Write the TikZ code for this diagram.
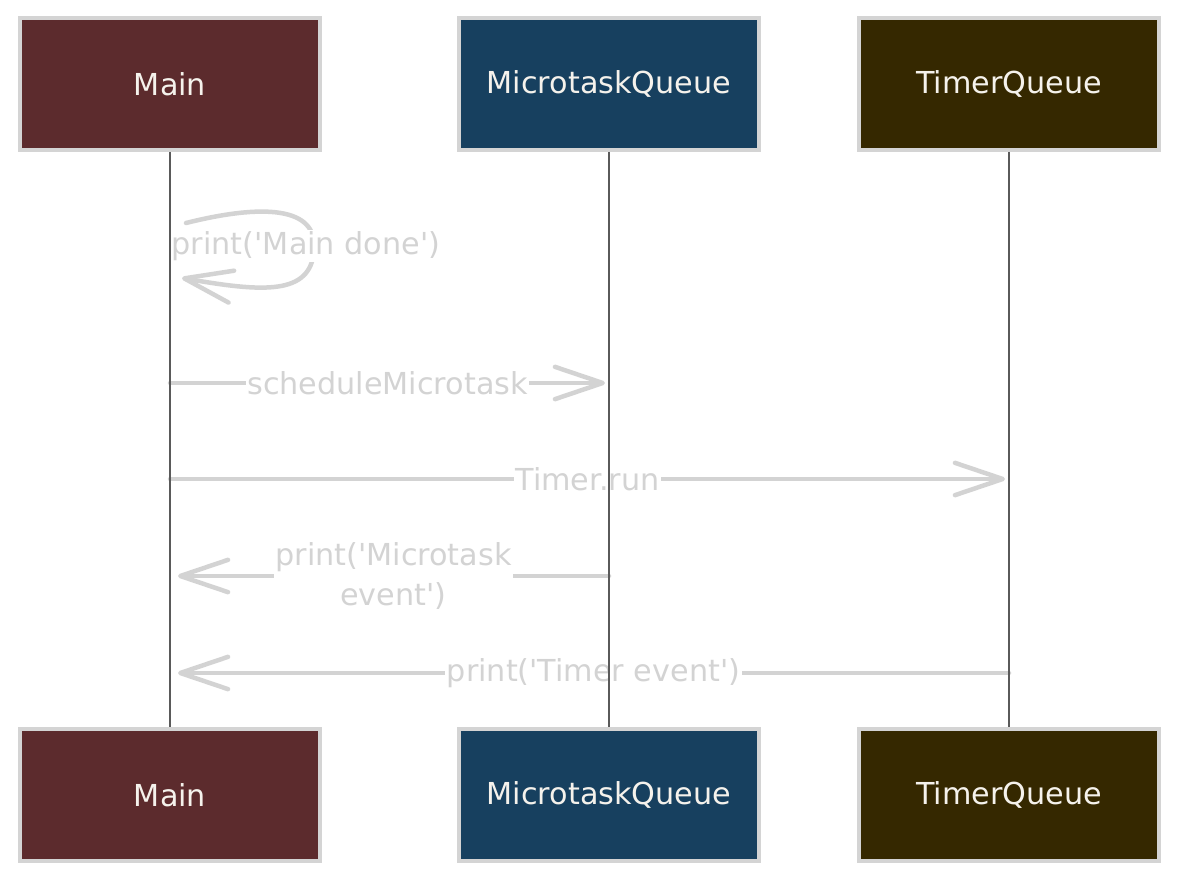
\documentclass[tikz,border=0pt]{standalone}
\usepackage{fontspec}
\newfontfamily\handfont{DejaVu Sans}
\usetikzlibrary{arrows.meta, positioning}
\definecolor{mainred}{HTML}{5C2B2D}
\definecolor{mqblue}{HTML}{17405F}
\definecolor{tqbrown}{HTML}{352800}
\definecolor{boxline}{HTML}{D4D4D4}
\definecolor{boxtext}{HTML}{F5F2EC}
\definecolor{msggrey}{HTML}{D3D3D3}
\definecolor{lifegrey}{HTML}{5A5A5A}

\begin{document}
\begin{tikzpicture}[x=0.025cm, y=-0.025cm,
    >={Straight Barb[length=34pt, width=23pt, round]},
    actor/.style={draw=boxline, line width=2.6pt, fill=#1,
          minimum width=7.5cm, minimum height=3.3cm, inner sep=0pt,
          text=boxtext, font=\handfont\fontsize{21.5}{25}\selectfont},
    msg/.style={draw=msggrey, line width=3.2pt, line cap=round},
    lbl/.style={fill=white, text=msggrey, inner sep=1pt, align=center,
          font=\handfont\fontsize{21.5}{28}\selectfont},
    life/.style={draw=lifegrey, line width=1pt}]
  \useasboundingbox (0,0) rectangle (1180,880);

  % Participants: top and bottom heads
  \foreach \n/\t/\x/\c in {main/Main/170/mainred, mq/MicrotaskQueue/609/mqblue,
                           tq/TimerQueue/1009/tqbrown} {
    \node[actor=\c] (\n-top) at (\x, 84) {\t};
    \node[actor=\c] (\n-bot) at (\x, 795) {\t};
  }

  % Self call on Main
  \coordinate (loop-a) at (186, 223);
  \coordinate (loop-b) at (182, 278);
  \draw[msg, ->] (loop-a) .. controls (262, 204) and (318, 206) .. (314, 250)
    .. controls (311, 296) and (262, 292) .. (loop-b);
  \node[lbl] (loop-lbl) at (306, 246) {print('Main done')};

  % Messages between lifelines
  \coordinate (m1-s) at (170, 383);  \coordinate (m1-e) at (605, 383);
  \coordinate (m2-s) at (170, 479);  \coordinate (m2-e) at (1005, 479);
  \coordinate (m3-s) at (609, 576);  \coordinate (m3-e) at (178, 576);
  \coordinate (m4-s) at (1009, 673); \coordinate (m4-e) at (178, 673);
  \draw[msg, ->] (m1-s) -- node[lbl] (m1-lbl) {scheduleMicrotask} (m1-e);
  \draw[msg, ->] (m2-s) -- node[lbl] (m2-lbl) {Timer.run} (m2-e);
  \draw[msg, ->] (m3-s) -- node[lbl] (m3-lbl) {print('Microtask\\event')} (m3-e);
  \draw[msg, ->] (m4-s) -- node[lbl] (m4-lbl) {print('Timer event')} (m4-e);

  % Lifelines on top
  \foreach \n in {main, mq, tq} {
    \draw[life] (\n-top) -- (\n-bot);
  }
\end{tikzpicture}
\end{document}
